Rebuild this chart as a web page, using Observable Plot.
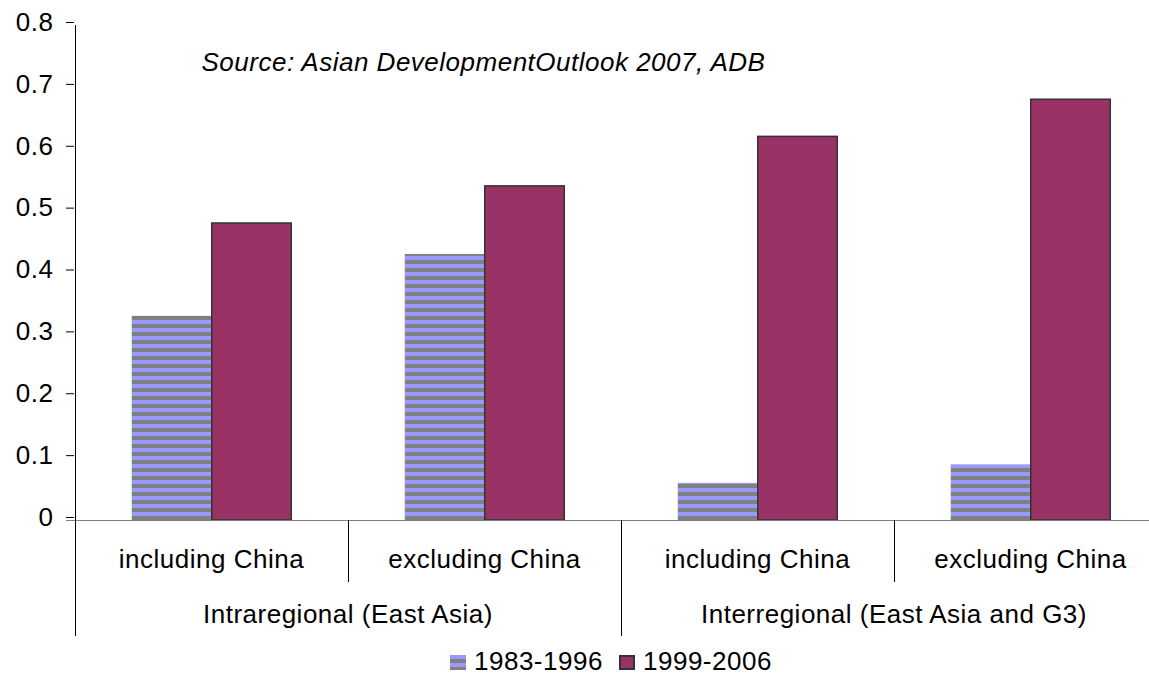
<!DOCTYPE html>
<html>
<head>
<meta charset="utf-8">
<script src="https://cdn.jsdelivr.net/npm/d3@7"></script>
<script src="https://cdn.jsdelivr.net/npm/@observablehq/plot@0.6"></script>
<style>
  html, body { margin: 0; padding: 0; background: #fff; overflow: hidden; }
  #chart svg { display: block; }
  #legend { position: relative; height: 30px; font-family: "Liberation Sans", Arial, sans-serif; font-size: 26px; letter-spacing: 0.5px; color: #000; }
  #legend .sw { position: absolute; top: 7px; width: 16px; height: 15px; box-sizing: border-box; }
  #legend .lb { position: absolute; top: 0; line-height: 26px; white-space: nowrap; }
</style>
</head>
<body>
<div id="chart"></div>
<div id="legend"></div>
<script>
// ---- data ----
const groups = ["Intraregional (East Asia)", "Interregional (East Asia and G3)"];
const subcategories = ["including China", "excluding China", "including China", "excluding China"];
const categoryGroup = [0, 0, 1, 1];
const series = ["1983-1996", "1999-2006"];
const values1983 = [0.33, 0.43, 0.06, 0.09];
const values1999 = [0.48, 0.54, 0.62, 0.68];
const yTicks = [0, 0.1, 0.2, 0.3, 0.4, 0.5, 0.6, 0.7, 0.8];
const yTickLabels = ["0", "0.1", "0.2", "0.3", "0.4", "0.5", "0.6", "0.7", "0.8"];
const sourceText = "Source: Asian DevelopmentOutlook 2007, ADB";

const rows = subcategories.map((s, i) => ({
  key: i + "|" + s,
  sub: s,
  group: groups[categoryGroup[i]],
  a: values1983[i],
  b: values1999[i]
}));
const keys = rows.map(d => d.key);

const FONT = "'Liberation Sans', Arial, sans-serif";
const bandW = (1168 - 74) / 4;
const barW = 80;
const gap = (bandW - 2 * barW) / 2;

const bottomStructure = (index, scales, values, dimensions) => {
  const x = scales.x, y = scales.y;
  const bw = x(keys[1]) - x(keys[0]);
  const x0 = x(keys[0]);
  const xEnd = x(keys[keys.length - 1]) + bw;
  const y0 = y(0);
  const g = d3.create("svg:g");
  g.append("line").attr("x1", 66).attr("x2", xEnd).attr("y1", y0 + 0.5).attr("y2", y0 + 0.5)
    .attr("stroke", "#808080").attr("stroke-width", 1);
  g.append("line").attr("x1", x0 + 0.5).attr("x2", x0 + 0.5).attr("y1", y(0.8)).attr("y2", 636)
    .attr("stroke", "#000").attr("stroke-width", 1);
  keys.forEach((k, i) => {
    if (i === 0) return;
    const xs = Math.round(x(k)) + 0.5;
    const long = categoryGroup[i] !== categoryGroup[i - 1];
    g.append("line").attr("x1", xs).attr("x2", xs).attr("y1", y0).attr("y2", long ? 636 : 582)
      .attr("stroke", "#000").attr("stroke-width", 1);
  });
  rows.forEach(d => {
    g.append("text").attr("x", x(d.key) + bw / 2).attr("y", 568)
      .attr("text-anchor", "middle").attr("font-family", FONT).attr("font-size", 26)
      .attr("fill", "#000").text(d.sub);
  });
  groups.forEach((gname, gi) => {
    const idx = rows.map((r, i) => i).filter(i => categoryGroup[i] === gi);
    const left = x(keys[idx[0]]);
    const right = x(keys[idx[idx.length - 1]]) + bw;
    g.append("text").attr("x", (left + right) / 2).attr("y", 623)
      .attr("text-anchor", "middle").attr("font-family", FONT).attr("font-size", 26)
      .attr("fill", "#000").text(gname);
  });
  return g.node();
};

const svg = Plot.plot({
  width: 1149,
  height: 648,
  marginTop: 25,
  marginBottom: 128,
  marginLeft: 74,
  marginRight: 0,
  style: { fontFamily: FONT, fontSize: "26px", background: "white", letterSpacing: "0.5px", color: "#000" },
  x: { domain: keys, range: [74, 1168], padding: 0, axis: null },
  y: { domain: [0, 0.8], range: [520, 25], axis: null },
  marks: [
    Plot.barY(rows, { x: "key", y: "a", fill: "url(#stripes)", className: "stripebars", insetLeft: gap, insetRight: bandW - gap - barW }),
    Plot.barY(rows, { x: "key", y: "b", fill: "#993366", stroke: "#333333", strokeWidth: 1.5, insetLeft: gap + barW, insetRight: gap }),
    Plot.axisY({
      ticks: yTicks,
      tickFormat: d => yTickLabels[yTicks.indexOf(d)],
      tickSize: 8,
      tickPadding: 13,
      fontSize: 26,
      dy: -3,
      label: null
    }),
    bottomStructure,
    Plot.text([sourceText], {
      text: d => d,
      frameAnchor: "top-left",
      dx: 127,
      dy: 45,
      lineAnchor: "bottom",
      textAnchor: "start",
      fontStyle: "italic",
      fontSize: 26,
      fill: "#000"
    })
  ]
});

const defs = d3.select(svg).insert("defs", ":first-child");
const pat = defs.append("pattern").attr("id", "stripes").attr("patternUnits", "userSpaceOnUse")
  .attr("width", 8).attr("height", 8);
pat.append("rect").attr("width", 8).attr("height", 8).attr("fill", "#9999ff");
pat.append("rect").attr("y", 4).attr("width", 8).attr("height", 4).attr("fill", "#808080");
d3.select(svg).selectAll(".stripebars rect").attr("fill", "url(#stripes)");

document.getElementById("chart").appendChild(svg);

const legend = d3.select("#legend");
const swatchStyles = [
  "background: repeating-linear-gradient(to bottom, #9999ff 0px, #9999ff 4px, #808080 4px, #808080 8px);",
  "background: #993366; border: 2px solid #333333;"
];
const legendPos = [[450, 474], [619, 643]];
series.forEach((s, i) => {
  legend.append("div").attr("class", "sw").attr("style", swatchStyles[i] + `left:${legendPos[i][0]}px;`);
  legend.append("div").attr("class", "lb").attr("style", `left:${legendPos[i][1]}px;`).text(s);
});
</script>
</body>
</html>
